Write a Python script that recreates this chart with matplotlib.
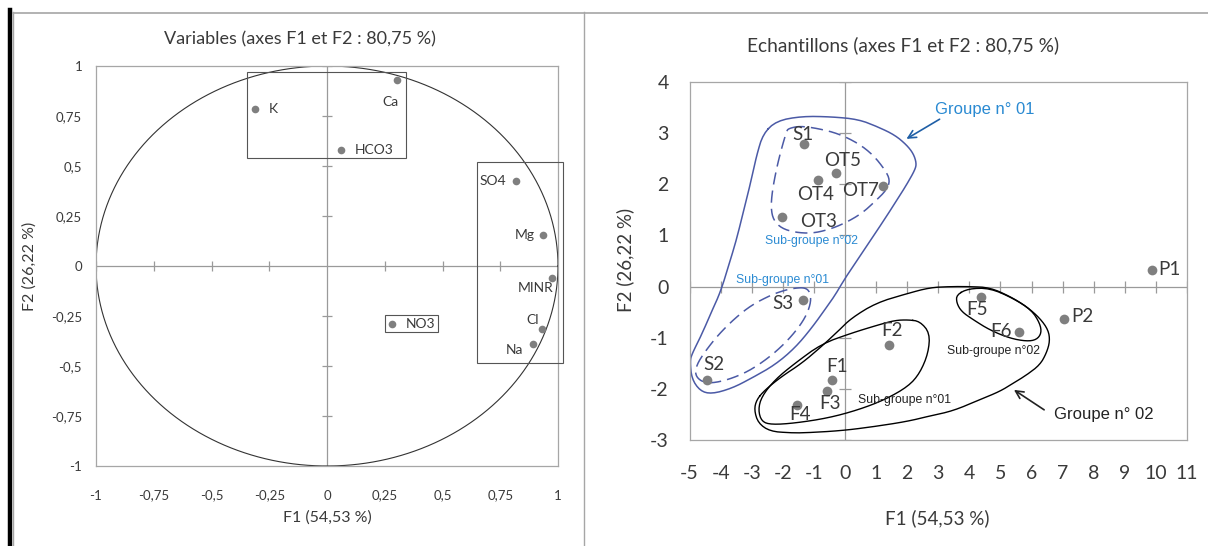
import numpy as np
import matplotlib
matplotlib.use("Agg")
import matplotlib.pyplot as plt
from matplotlib.patches import Rectangle, FancyArrowPatch
from matplotlib.lines import Line2D

# ---------------- data ----------------
# correlation circle (variables)
var_names = ["K", "Ca", "HCO3", "SO4", "Mg", "MINR", "Cl", "Na", "NO3"]
var_f1 = [-0.31, 0.305, 0.062, 0.82, 0.934, 0.972, 0.93, 0.89, 0.283]
var_f2 = [0.784, 0.93, 0.58, 0.427, 0.155, -0.06, -0.313, -0.389, -0.288]

# samples (observations)
obs_names = ["S1", "OT5", "OT4", "OT7", "OT3", "S3", "S2",
             "F2", "F1", "F3", "F4", "F5", "F6", "P2", "P1"]
obs_f1 = [-1.32, -0.28, -0.88, 1.21, -2.02, -1.36, -4.44,
          1.43, -0.42, -0.59, -1.53, 4.37, 5.60, 7.03, 9.88]
obs_f2 = [2.78, 2.23, 2.08, 1.97, 1.36, -0.27, -1.83,
          -1.14, -1.83, -2.04, -2.31, -0.21, -0.88, -0.63, 0.33]

corr_ticks = [-1, -0.75, -0.5, -0.25, 0, 0.25, 0.5, 0.75, 1]
corr_tick_labels = ["-1", "-0,75", "-0,5", "-0,25", "0", "0,25", "0,5", "0,75", "1"]
obs_xticks = list(range(-5, 12))
obs_yticks = list(range(-3, 5))

title_vars = "Variables (axes F1 et F2 : 80,75 %)"
title_obs = "Echantillons (axes F1 et F2 : 80,75 %)"
xlab = "F1 (54,53 %)"
ylab = "F2 (26,22 %)"

# ---------------- styling ----------------
FONT = ["Lato", "DejaVu Sans"]
ARIAL = ["Liberation Sans", "DejaVu Sans"]
plt.rcParams["font.family"] = FONT
TXT = "#3a3a3a"
PT = "#7f7f7f"
FRAME = "#a6a6a6"
AX0 = "#9a9a9a"
BLUE_LINE = "#4b5aa6"
BLUE_TXT = "#2a8ad2"
BLUE_ARROW = "#1f5fa6"

W, H = 1208, 546
fig = plt.figure(figsize=(W / 100, H / 100), dpi=100)


def fx(px):
    return px / W


def fy(py):
    return 1 - py / H


# panel frames
fig.add_artist(Line2D([fx(9.5), fx(9.5)], [fy(10), fy(546)], color="black", lw=3.2))
fig.add_artist(Line2D([fx(13), fx(13)], [fy(12), fy(546)], color=FRAME, lw=1.0))
fig.add_artist(Line2D([fx(13), fx(1208)], [fy(12.5), fy(12.5)], color=FRAME, lw=1.2))
fig.add_artist(Line2D([fx(583.5), fx(583.5)], [fy(12), fy(546)], color=FRAME, lw=1.0))


def style_frame(ax):
    for s in ax.spines.values():
        s.set_color(FRAME)
        s.set_linewidth(0.9)
    ax.tick_params(length=0, colors=TXT)


def cross_axes(ax, xt, yt, xmin, xmax, ymin, ymax, tlen):
    ax.plot([xmin, xmax], [0, 0], color=AX0, lw=0.9, zorder=1)
    ax.plot([0, 0], [ymin, ymax], color=AX0, lw=0.9, zorder=1)
    ax.plot(xt, [0] * len(xt), ls="none", marker="|", ms=tlen, mew=0.9,
            color=AX0, zorder=1)
    ax.plot([0] * len(yt), yt, ls="none", marker="_", ms=tlen, mew=0.9,
            color=AX0, zorder=1)


# ---------------- left panel: correlation circle ----------------
axL = fig.add_axes([fx(96), fy(466), (558 - 96) / W, (466 - 66) / H])
axL.set_xlim(-1, 1)
axL.set_ylim(-1, 1)
style_frame(axL)
axL.set_xticks(corr_ticks)
axL.set_xticklabels(corr_tick_labels, fontsize=9.5)
axL.set_yticks(corr_ticks)
axL.set_yticklabels(corr_tick_labels, fontsize=9.5)
axL.tick_params(axis="x", pad=17)
axL.tick_params(axis="y", pad=10)
cross_axes(axL, [t for t in corr_ticks if t != 0], [t for t in corr_ticks if t != 0],
           -1, 1, -1, 1, 7)

th = np.linspace(0, 2 * np.pi, 400)
axL.plot(np.cos(th), np.sin(th), color="#333333", lw=0.8, zorder=2)

for (x0, y0, x1, y1) in [(-0.345, 0.541, 0.342, 0.972),
                         (0.648, -0.486, 1.02, 0.519),
                         (0.25, -0.33, 0.482, -0.245)]:
    axL.add_patch(Rectangle((x0, y0), x1 - x0, y1 - y0, fill=False,
                            ec="#555555", lw=0.8, clip_on=False, zorder=3))

axL.plot(var_f1, var_f2, ls="none", marker="o", ms=5.5, color=PT, mec="none", zorder=4)

var_label_pos = {
    "K": (0.06, 0.0, "left"),
    "Ca": (-0.03, -0.11, "center"),
    "HCO3": (0.06, 0.0, "left"),
    "SO4": (-0.045, 0.0, "right"),
    "Mg": (-0.035, 0.0, "right"),
    "MINR": (-0.07, -0.05, "center"),
    "Cl": (-0.04, 0.045, "center"),
    "Na": (-0.08, -0.03, "center"),
    "NO3": (0.06, 0.0, "left"),
}
for n, x, y in zip(var_names, var_f1, var_f2):
    dx, dy, ha = var_label_pos[n]
    axL.text(x + dx, y + dy, n, ha=ha, va="center", fontsize=10, color=TXT, zorder=5)

fig.text(fx(300), fy(39), title_vars, ha="center", va="center", fontsize=13, color=TXT)
fig.text(fx(327), fy(518), xlab, ha="center", va="center", fontsize=11.5, color=TXT)
fig.text(fx(30), fy(266), ylab, ha="center", va="center", rotation=90, fontsize=11.5, color=TXT)

# ---------------- right panel: samples ----------------
axR = fig.add_axes([fx(689.5), fy(440), (1187 - 689.5) / W, (440 - 82) / H])
axR.set_xlim(-5, 11)
axR.set_ylim(-3, 4)
style_frame(axR)
axR.set_xticks(obs_xticks)
axR.set_xticklabels([str(v) for v in obs_xticks], fontsize=14)
axR.set_yticks(obs_yticks)
axR.set_yticklabels([str(v) for v in obs_yticks], fontsize=14)
axR.tick_params(axis="x", pad=18)
axR.tick_params(axis="y", pad=15)
cross_axes(axR, [t for t in obs_xticks if t != 0], [t for t in obs_yticks if t != 0],
           -5, 11, -3, 4, 8)


def chaikin(pts, n=2):
    p = np.asarray(pts, float)
    for _ in range(n):
        q = np.roll(p, -1, axis=0)
        a = 0.75 * p + 0.25 * q
        b = 0.25 * p + 0.75 * q
        p = np.empty((2 * len(a), 2))
        p[0::2] = a
        p[1::2] = b
    return np.vstack([p, p[:1]])


def outline(ax, pts, color, dashed=False, lw=1.1):
    c = chaikin(pts, 2)
    kw = {"dashes": (8, 4)} if dashed else {}
    ax.plot(c[:, 0], c[:, 1], color=color, lw=lw, zorder=2, **kw)


group1 = [[-2.63, 2.99], [-2.20, 3.24], [-1.39, 3.33], [-0.43, 3.32], [0.43, 3.27],
          [1.07, 3.12], [1.61, 2.96], [1.98, 2.77], [2.20, 2.60], [2.30, 2.41],
          [2.25, 2.28], [1.98, 1.99], [1.71, 1.73], [1.29, 1.33], [0.86, 0.94],
          [0.43, 0.55], [0.0, 0.16], [-0.3, -0.15], [-0.54, -0.36], [-1.07, -0.81],
          [-1.61, -1.20], [-2.25, -1.53], [-3.0, -1.79], [-3.64, -1.99], [-4.29, -2.10],
          [-4.66, -2.04], [-4.93, -1.80], [-4.98, -1.46], [-4.93, -1.33], [-4.61, -0.94],
          [-4.29, -0.49], [-4.0, -0.10], [-3.70, 0.49], [-3.48, 0.94], [-3.27, 1.46],
          [-3.05, 1.99], [-2.84, 2.57]]
sub1_2 = [[-1.82, 3.09], [-1.45, 3.14], [-0.86, 3.09], [-0.21, 2.99], [0.43, 2.80],
          [0.91, 2.57], [1.29, 2.28], [1.45, 2.08], [1.34, 1.89], [0.96, 1.66],
          [0.54, 1.43], [0.0, 1.24], [-0.54, 1.11], [-1.07, 1.04], [-1.61, 1.06],
          [-2.04, 1.14], [-2.30, 1.30], [-2.38, 1.53], [-2.34, 1.86], [-2.20, 2.31],
          [-2.04, 2.70], [-1.88, 3.03]]
sub1_1 = [[-1.61, -0.03], [-1.29, -0.02], [-1.13, -0.10], [-1.09, -0.29], [-1.23, -0.55],
          [-1.50, -0.81], [-1.93, -1.11], [-2.47, -1.40], [-3.11, -1.66], [-3.75, -1.82],
          [-4.29, -1.89], [-4.61, -1.86], [-4.82, -1.73], [-4.77, -1.53], [-4.50, -1.27],
          [-4.07, -0.94], [-3.54, -0.62], [-3.00, -0.36], [-2.36, -0.16], [-1.93, -0.07]]
group2 = [[-2.84, -2.21], [-2.57, -2.02], [-2.04, -1.76], [-1.39, -1.50], [-0.75, -1.17],
          [-0.2, -0.86], [0.2, -0.62], [1.0, -0.32], [1.98, -0.14], [2.73, -0.02],
          [3.38, 0.0], [4.02, 0.0], [4.66, -0.02], [5.30, -0.19], [5.84, -0.39],
          [6.27, -0.62], [6.54, -0.85], [6.59, -1.07], [6.48, -1.30], [6.27, -1.53],
          [5.84, -1.73], [5.41, -1.89], [4.98, -2.05], [4.34, -2.21], [3.48, -2.43],
          [2.73, -2.53], [1.98, -2.64], [0.8, -2.75], [-0.16, -2.82], [-1.29, -2.86],
          [-1.77, -2.86], [-2.41, -2.83], [-2.79, -2.67], [-2.92, -2.41]]
sub2_1 = [[2.04, -0.65], [2.41, -0.68], [2.73, -0.91], [2.68, -1.30], [2.41, -1.69],
          [2.04, -1.95], [1.29, -2.21], [0.43, -2.41], [-0.54, -2.57], [-1.61, -2.67],
          [-2.36, -2.70], [-2.68, -2.64], [-2.79, -2.41], [-2.68, -2.15], [-2.25, -1.82],
          [-1.61, -1.50], [-0.75, -1.12], [0.21, -0.91], [1.07, -0.75], [1.61, -0.66]]
sub2_2 = [[3.59, -0.16], [3.97, -0.04], [4.66, -0.03], [5.41, -0.23], [6.0, -0.46],
          [6.27, -0.72], [6.32, -0.91], [6.16, -1.04], [5.84, -1.07], [5.30, -1.01],
          [4.66, -0.85], [4.13, -0.65], [3.75, -0.49], [3.59, -0.32]]

outline(axR, group1, BLUE_LINE)
outline(axR, sub1_2, BLUE_LINE, dashed=True)
outline(axR, sub1_1, BLUE_LINE, dashed=True)
outline(axR, group2, "black", lw=1.0)
outline(axR, sub2_1, "black", lw=1.0)
outline(axR, sub2_2, "black", lw=1.0)

axR.plot(obs_f1, obs_f2, ls="none", marker="o", ms=7, color=PT, mec="none", zorder=4)

obs_label_pos = {
    "S1": (-0.02, 0.20, "center"),
    "OT5": (0.19, 0.23, "center"),
    "OT4": (-0.08, -0.27, "center"),
    "OT7": (-0.71, -0.09, "center"),
    "OT3": (1.16, -0.08, "center"),
    "S3": (-0.64, -0.06, "center"),
    "S2": (0.24, 0.31, "center"),
    "F2": (0.09, 0.29, "center"),
    "F1": (0.15, 0.27, "center"),
    "F3": (0.11, -0.24, "center"),
    "F4": (0.08, -0.20, "center"),
    "F5": (-0.11, -0.23, "center"),
    "F6": (-0.58, 0.0, "center"),
    "P2": (0.25, 0.04, "left"),
    "P1": (0.2, 0.0, "left"),
}
for n, x, y in zip(obs_names, obs_f1, obs_f2):
    dx, dy, ha = obs_label_pos[n]
    axR.text(x + dx, y + dy, n, ha=ha, va="center", fontsize=13.5, color=TXT, zorder=5)

# group annotations
axR.text(2.9, 3.46, "Groupe n° 01", ha="left", va="center", fontsize=12,
         color=BLUE_TXT, family=ARIAL)
axR.add_patch(FancyArrowPatch((3.12, 3.30), (1.90, 2.86), arrowstyle="->",
                              mutation_scale=14, color=BLUE_ARROW, lw=1.2, zorder=6))
axR.text(6.72, -2.51, "Groupe n° 02", ha="left", va="center", fontsize=12,
         color="#222222", family=ARIAL)
axR.add_patch(FancyArrowPatch((6.48, -2.44), (5.36, -1.99), arrowstyle="->",
                              mutation_scale=14, color="#222222", lw=1.2, zorder=6))
axR.text(-1.09, 0.90, "Sub-groupe n°02", ha="center", va="center", fontsize=8.8,
         color=BLUE_TXT, family=ARIAL)
axR.text(-2.01, 0.13, "Sub-groupe n°01", ha="center", va="center", fontsize=8.8,
         color=BLUE_TXT, family=ARIAL)
axR.text(4.77, -1.26, "Sub-groupe n°02", ha="center", va="center", fontsize=8.8,
         color="#222222", family=ARIAL)
axR.text(1.93, -2.21, "Sub-groupe n°01", ha="center", va="center", fontsize=8.8,
         color="#222222", family=ARIAL)

fig.text(fx(903.5), fy(45), title_obs, ha="center", va="center", fontsize=13.8, color=TXT)
fig.text(fx(937), fy(518), xlab, ha="center", va="center", fontsize=13.5, color=TXT)
fig.text(fx(625), fy(260), ylab, ha="center", va="center", rotation=90, fontsize=13.5, color=TXT)

fig.savefig("out.png", dpi=100, facecolor="white")
